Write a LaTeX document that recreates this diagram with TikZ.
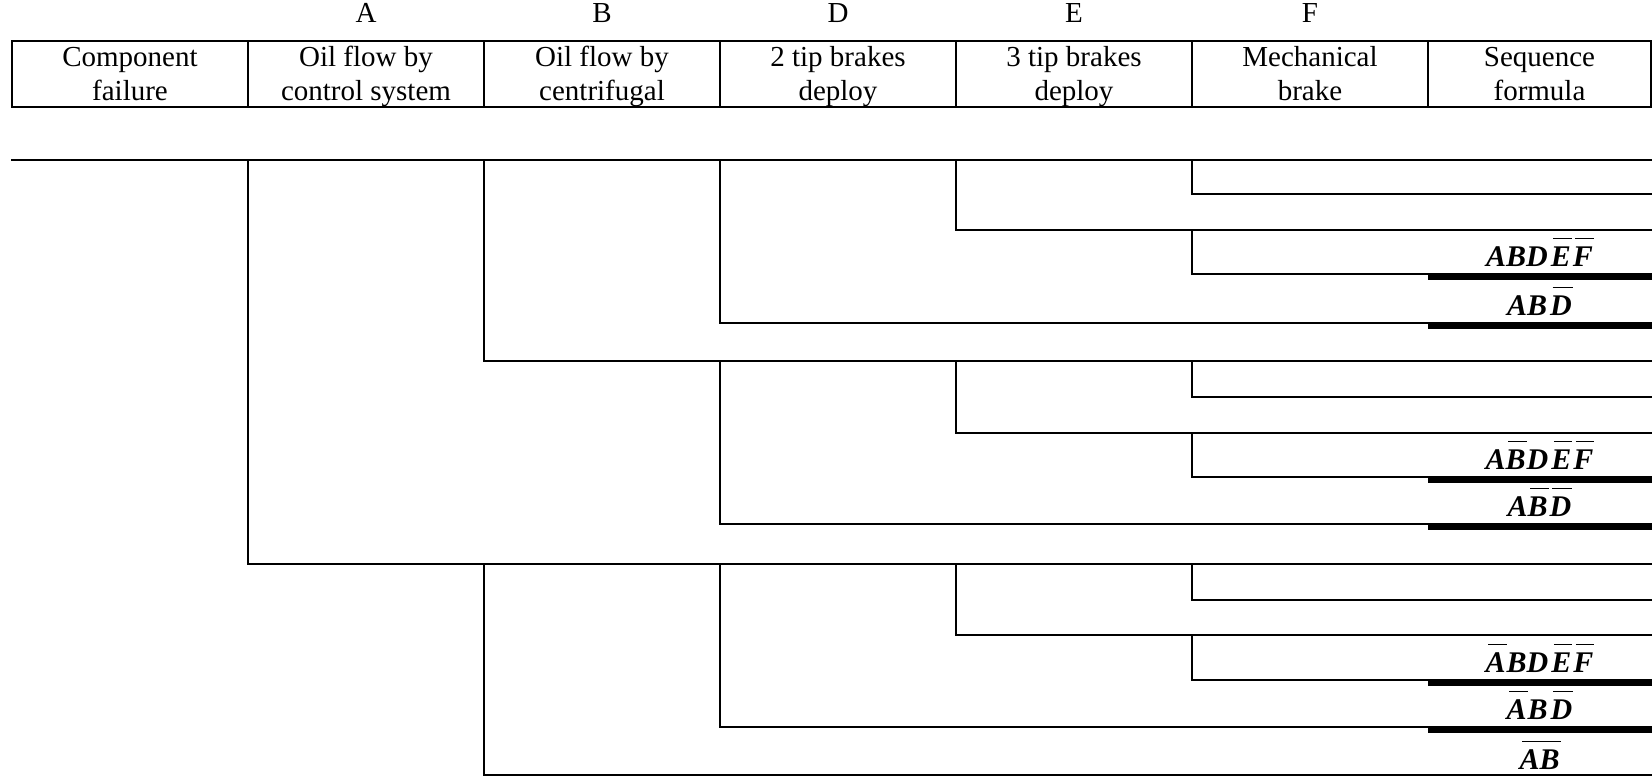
\documentclass[tikz,border=0pt]{standalone}
\usepackage{fontspec}
\setmainfont{Liberation Serif}
% negated event: letter(s) with a bar over them
\newsavebox\nbbox
\newcommand\nb[1]{\sbox\nbbox{#1}\vbox{\offinterlineskip
  \moveright2.5pt\vbox{\hrule height 1.4pt width \dimexpr\wd\nbbox-1.5pt\relax}%
  \kern7pt\box\nbbox}}
\begin{document}
\begin{tikzpicture}[x=1pt,y=-1pt,
  line/.style={line width=2pt},
  endrow/.style={line width=5pt},
  hdr/.style={font=\fontsize{29}{33.6}\selectfont, align=center, inner sep=0pt},
  lbl/.style={font=\fontsize{29}{33.6}\selectfont, anchor=base, inner sep=0pt},
  seq/.style={font=\fontsize{30}{34}\selectfont\bfseries\itshape, anchor=base, inner sep=0pt},
]
\useasboundingbox (0,0) rectangle (1652,777);

% ---- header table ----
\draw[line] (12,41) rectangle (1651,107);
\foreach \x in {248,484,720,956,1192,1428} \draw[line] (\x,41) -- (\x,107);

\node[hdr] (h0) at (130,76.5)    {\strut Component\\\strut failure};
\node[hdr] (h1) at (366,76.5)    {\strut Oil flow by\\\strut control system};
\node[hdr] (h2) at (602,76.5)    {\strut Oil flow by\\\strut centrifugal};
\node[hdr] (h3) at (838,76.5)    {\strut 2 tip brakes\\\strut deploy};
\node[hdr] (h4) at (1074,76.5)   {\strut 3 tip brakes\\\strut deploy};
\node[hdr] (h5) at (1310,76.5)   {\strut Mechanical\\\strut brake};
\node[hdr] (h6) at (1539.5,76.5) {\strut Sequence\\\strut formula};

\node[lbl] (lA) at (366,22)  {A};
\node[lbl] (lB) at (602,22)  {B};
\node[lbl] (lD) at (838,22)  {D};
\node[lbl] (lE) at (1074,22) {E};
\node[lbl] (lF) at (1310,22) {F};

% ---- event tree ----
% start of the initiating line
\coordinate (root) at (11,160);
% right-hand ends of the sixteen branches
\foreach \i/\y in {1/160,2/194,3/230,4/274,5/323,6/361,7/397,8/433,
                   9/477,10/524,11/564,12/600,13/635,14/680,15/727,16/775}
  \coordinate (o\i) at (1652,\y);

% branch points (failure goes down, success continues right)
\coordinate (bA)  at (248,160);
\coordinate (bB1) at (484,160);
\coordinate (bB2) at (484,564);
\coordinate (bD1) at (720,160);
\coordinate (bD2) at (720,361);
\coordinate (bD3) at (720,564);
\coordinate (bE1) at (956,160);
\coordinate (bE2) at (956,361);
\coordinate (bE3) at (956,564);
\coordinate (bF1) at (1192,160);
\coordinate (bF2) at (1192,230);
\coordinate (bF3) at (1192,361);
\coordinate (bF4) at (1192,433);
\coordinate (bF5) at (1192,564);
\coordinate (bF6) at (1192,635);

\draw[line] (root) -- (o1);
\draw[line] (bA)  |- (o11);
\draw[line] (bB1) |- (o6);
\draw[line] (bB2) |- (o16);
\draw[line] (bD1) |- (o5);
\draw[line] (bD2) |- (o10);
\draw[line] (bD3) |- (o15);
\draw[line] (bE1) |- (o3);
\draw[line] (bE2) |- (o8);
\draw[line] (bE3) |- (o13);
\draw[line] (bF1) |- (o2);
\draw[line] (bF2) |- (o4);
\draw[line] (bF3) |- (o7);
\draw[line] (bF4) |- (o9);
\draw[line] (bF5) |- (o12);
\draw[line] (bF6) |- (o14);

% heavy underline of the sequences that end in a formula
\foreach \i/\y in {4/277.2,5/326.2,9/480.2,10/527.2,14/683.2,15/730.2} {
  \coordinate (k\i) at (1428,\y);
  \coordinate (q\i) at (1652,\y);
  \draw[endrow] (k\i) -- (q\i);
}

% ---- sequence formulas ----
\node[seq] (f4)  at (1540,266) {ABD\kern3pt\nb{E}\kern1pt\nb{F}};
\node[seq] (f5)  at (1540,315) {AB\kern3pt\nb{D}};
\node[seq] (f9)  at (1540,469) {A\nb{B}D\kern3pt\nb{E}\kern1pt\nb{F}};
\node[seq] (f10) at (1540,516) {A\nb{B}\kern1pt\nb{D}};
\node[seq] (f14) at (1540,672) {\nb{A}BD\kern3pt\nb{E}\kern1pt\nb{F}};
\node[seq] (f15) at (1540,719) {\nb{A}B\kern3pt\nb{D}};
\node[seq] (f16) at (1540,769) {\nb{AB}};
\end{tikzpicture}
\end{document}
